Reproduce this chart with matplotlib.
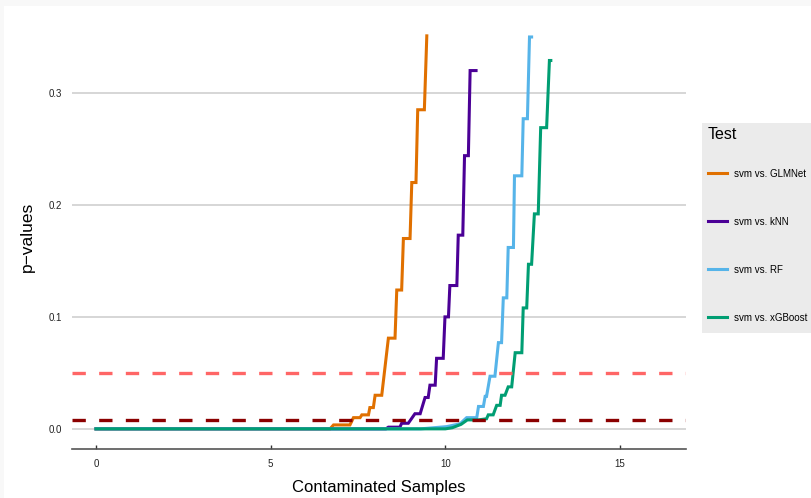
import matplotlib as mpl
import matplotlib.pyplot as plt
from matplotlib.patches import Rectangle

mpl.use('Agg')
plt.rcParams['font.family'] = ['Liberation Sans', 'DejaVu Sans']

# p-value curves per test (x = contaminated samples)
glmnet_x = [0, 6.70, 6.80, 7.27, 7.37, 7.56, 7.61, 7.80, 7.84, 7.94, 7.99, 8.18,
            8.37, 8.56, 8.61, 8.75, 8.80, 8.99, 9.04, 9.16, 9.21, 9.40, 9.47]
glmnet_y = [0, 0, 0.0035, 0.0035, 0.010, 0.010, 0.0125, 0.0125, 0.019, 0.019, 0.030, 0.030,
            0.081, 0.081, 0.124, 0.124, 0.170, 0.170, 0.220, 0.220, 0.285, 0.285, 0.351]

knn_x = [0, 8.30, 8.37, 8.70, 8.75, 8.94, 9.13, 9.28, 9.42, 9.51, 9.56, 9.71, 9.75,
         9.94, 9.99, 10.09, 10.13, 10.33, 10.37, 10.50, 10.55, 10.66, 10.71, 10.88]
knn_y = [0, 0, 0.0015, 0.0015, 0.005, 0.005, 0.0135, 0.0135, 0.028, 0.028, 0.039, 0.039, 0.063,
         0.063, 0.100, 0.100, 0.128, 0.128, 0.173, 0.173, 0.244, 0.244, 0.320, 0.320]

rf_x = [0, 9.30, 10.04, 10.42, 10.61, 10.90, 10.95, 11.09, 11.14, 11.18, 11.28, 11.42,
        11.52, 11.61, 11.66, 11.76, 11.80, 11.95, 11.98, 12.19, 12.23, 12.35, 12.41, 12.47]
rf_y = [0, 0, 0.002, 0.0045, 0.010, 0.010, 0.020, 0.020, 0.029, 0.029, 0.047, 0.047,
        0.077, 0.077, 0.117, 0.117, 0.162, 0.162, 0.226, 0.226, 0.277, 0.277, 0.350, 0.350]

xgb_x = [0, 10.0, 10.2, 10.45, 10.63, 10.95, 11.18, 11.23, 11.37, 11.47, 11.57, 11.61, 11.71,
         11.80, 11.90, 12.00, 12.19, 12.23, 12.33, 12.38, 12.47, 12.55, 12.66, 12.73, 12.90,
         12.98, 13.02]
xgb_y = [0, 0, 0.001, 0.004, 0.008, 0.008, 0.009, 0.0125, 0.0125, 0.021, 0.021, 0.030, 0.030,
         0.0375, 0.0375, 0.068, 0.068, 0.108, 0.108, 0.147, 0.147, 0.192, 0.192, 0.269, 0.269,
         0.329, 0.329]

labels = ['svm vs. GLMNet', 'svm vs. kNN', 'svm vs. RF', 'svm vs. xGBoost']
colors = ['#E07000', '#4B0096', '#56B4E9', '#009E73']

alpha_level = 0.05
bonferroni_level = 0.05 / 6

x_ticks = [0, 5, 10, 15]
y_ticks = [0.0, 0.1, 0.2, 0.3]

fig = plt.figure(figsize=(8.12, 4.98), dpi=100, facecolor='#f8f8f8')
fig.patches.append(Rectangle((4 / 812, 0), 1, (498 - 6) / 498, transform=fig.transFigure,
                             facecolor='white', edgecolor='none', zorder=-10))
# legend background panel
fig.patches.append(Rectangle((702 / 812, (498 - 333) / 498), 110 / 812, 210 / 498,
                             transform=fig.transFigure, facecolor='#EBEBEB',
                             edgecolor='none', zorder=-5))
ax = fig.add_axes([72 / 812, 49 / 498, 614 / 812, 424 / 498])
ax.set_facecolor('white')

series = [(glmnet_x, glmnet_y), (knn_x, knn_y), (rf_x, rf_y), (xgb_x, xgb_y)]
for (xs, ys), lab, col in zip(series, labels, colors):
    ax.plot(xs, ys, color=col, lw=2.2, label=lab, zorder=3, solid_joinstyle='miter')

# significance thresholds
ax.axhline(alpha_level, color='#FF6666', lw=2.4, dashes=(4, 4), zorder=4)
ax.axhline(bonferroni_level, color='#8B0000', lw=2.4, dashes=(4, 4), zorder=4)

ax.set_xlim(-0.687, 16.89)
ax.set_ylim(-0.018, 0.3607)
ax.set_xticks(x_ticks)
ax.set_yticks(y_ticks)
ax.set_yticklabels(['%.1f' % v for v in y_ticks])
ax.yaxis.grid(True, color='#CCCCCC', lw=1.1, zorder=0)
ax.set_axisbelow(True)

for side in ['top', 'right', 'left']:
    ax.spines[side].set_visible(False)
ax.spines['bottom'].set_color('#555555')
ax.spines['bottom'].set_linewidth(1.2)

ax.tick_params(axis='x', direction='in', length=3, width=1, color='#333333',
               labelsize=7, labelcolor='#222222', pad=7)
ax.tick_params(axis='y', length=0, labelsize=7, labelcolor='#222222', pad=7)

ax.set_xlabel('Contaminated Samples', fontsize=12, labelpad=8)
ax.set_ylabel('p\u2212values', fontsize=12.5, labelpad=10)

leg = ax.legend(title='Test', loc='upper left', bbox_to_anchor=(702 / 812, (498 - 121) / 498),
                bbox_transform=fig.transFigure, fontsize=7, title_fontsize=11.5,
                frameon=False, handlelength=2.0, handletextpad=0.7, labelspacing=3.9,
                borderpad=0.6, borderaxespad=0, alignment='left')
leg._legend_box.sep = 19.4  # tighter gap between title and first entry
for line in leg.get_lines():
    line.set_linewidth(2.2)

fig.savefig('out.png', dpi=100, facecolor=fig.get_facecolor())
